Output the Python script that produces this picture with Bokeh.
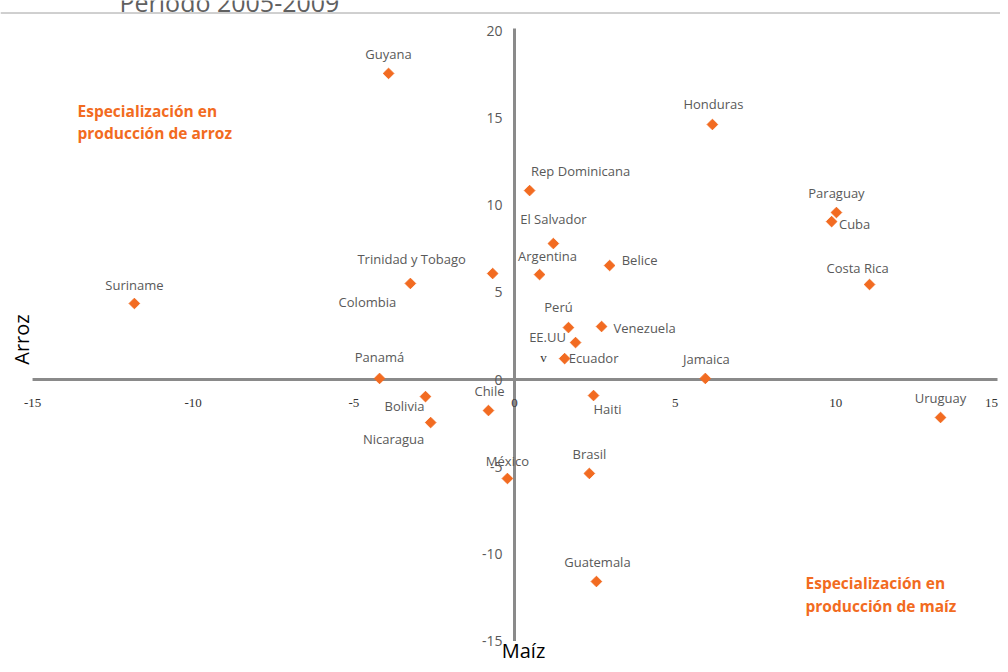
import math
from bokeh.plotting import figure
from bokeh.models import ColumnDataSource, Span, Range1d
from bokeh.core.properties import value
from bokeh.embed import file_html
from bokeh.resources import INLINE

# ---------------- data ----------------
paises = ["Guyana", "Honduras", "Rep Dominicana", "Paraguay", "Cuba", "El Salvador",
          "Trinidad y Tobago", "Argentina", "Belice", "Colombia", "Suriname", "Costa Rica",
          "Perú", "Venezuela", "EE.UU", "Ecuador", "Panamá", "Jamaica", "Bolivia", "Haiti",
          "Chile", "Nicaragua", "Uruguay", "México", "Brasil", "Guatemala"]
maiz = [-3.92, 6.16, 0.47, 10.02, 9.87, 1.21,
        -0.68, 0.78, 2.96, -3.24, -11.83, 11.05,
        1.68, 2.71, 1.90, 1.56, -4.20, 5.94, -2.77, 2.46,
        -0.81, -2.61, 13.26, -0.22, 2.33, 2.55]
arroz = [17.56, 14.63, 10.84, 9.58, 9.06, 7.80,
         6.08, 6.02, 6.54, 5.51, 4.36, 5.45,
         2.98, 3.04, 2.12, 1.20, 0.06, 0.06, -0.98, -0.92,
         -1.78, -2.47, -2.18, -5.68, -5.39, -11.59]
x_ticks = [-15, -10, -5, 0, 5, 10, 15]
y_ticks = [-15, -10, -5, 0, 5, 10, 15, 20]
x_tick_labels = [str(t) for t in x_ticks]
y_tick_labels = [str(t) for t in y_ticks]

# label placement (screen px offsets, style only)
lab_dx = [0, 1, 51, 0, 23, 0,
          -81, 8, 30, -43, 0, -12,
          -10, 43, -28, 29, 0, 1, -21, 14,
          1, -37, 0, 0, 0, 1]
lab_dy = [-19, -20, -20, -20, 2, -25,
          -15, -19, -6, 19, -19, -17,
          -21, 1, -6, -1, -21, -19, 9, 13,
          -20, 16, -19, -18, -19, -20]
xtick_dx = [0, 0, 0, 0, 0, 0, -5]

# ---------------- layout helpers ----------------
W, H = 1000, 664
PX_X0, PX_UNIT_X = 514.0, 32.13   # canvas px of x=0, px per unit
PX_Y0, PX_UNIT_Y = 379.0, 17.43
def gx(px):
    return (px - PX_X0) / PX_UNIT_X
def gy(py):
    return (PX_Y0 - py) / PX_UNIT_Y

ORANGE = "#F26B21"
GRAY_TXT = "#595959"
AXIS_GRAY = "#8a8a8a"
FONT = "Open Sans"

p = figure(width=W, height=H, output_backend="svg", toolbar_location=None,
           x_axis_type=None, y_axis_type=None,
           x_range=Range1d(gx(0), gx(W)), y_range=Range1d(gy(H), gy(0)),
           min_border=0, min_border_left=0, min_border_right=0,
           min_border_top=0, min_border_bottom=0)
p.grid.visible = False
p.outline_line_color = None
p.background_fill_color = "white"
p.border_fill_color = "white"

# top rule and cut title
p.add_layout(Span(location=gy(12.5), dimension="width", line_color="#a0a0a0", line_width=1))
p.text(x=[gx(119)], y=[gy(1.5)], text=["Período 2005-2009"], text_font=value(FONT),
       text_font_size="25px", text_color="#606060", text_align="left",
       text_baseline="alphabetic")

# axes through origin
p.segment(x0=[x_ticks[0]], y0=[0], x1=[gx(997)], y1=[0], line_color=AXIS_GRAY, line_width=3)
p.segment(x0=[0], y0=[gy(28)], x1=[0], y1=[y_ticks[0]], line_color=AXIS_GRAY, line_width=3)

# tick labels
p.text(x=x_ticks, y=[0] * len(x_ticks), text=x_tick_labels, y_offset=23, x_offset=xtick_dx,
       text_font=value("Liberation Serif"), text_font_size="13px", text_color="#333333",
       text_align="center", text_baseline="middle")
p.text(x=[0] * len(y_ticks), y=y_ticks, text=y_tick_labels, x_offset=-12,
       text_font=value(FONT), text_font_size="14px", text_color=GRAY_TXT,
       text_align="right", text_baseline="middle")

# axis titles
p.text(x=[gx(21)], y=[gy(339)], text=["Arroz"], angle=math.pi / 2,
       text_font=value(FONT), text_font_size="20px", text_color="black",
       text_align="center", text_baseline="middle")
p.text(x=[gx(523)], y=[gy(650)], text=["Maíz"],
       text_font=value(FONT), text_font_size="20px", text_color="black",
       text_align="center", text_baseline="middle")

# points
src = ColumnDataSource(dict(x=maiz, y=arroz, name=paises, dx=lab_dx, dy=lab_dy))
p.scatter("x", "y", source=src, marker="square", angle=math.pi / 4, size=7.5,
          fill_color=ORANGE, line_color=ORANGE)
p.text("x", "y", text="name", source=src, x_offset="dx", y_offset="dy",
       text_font=value(FONT), text_font_size="13px", text_color=GRAY_TXT,
       text_align="center", text_baseline="middle")

# stray "v" near Ecuador
p.text(x=[gx(543)], y=[gy(357)], text=["v"], text_font=value("Liberation Serif"),
       text_font_size="13px", text_color="#333333", text_align="center",
       text_baseline="middle")

# quadrant annotations
p.text(x=[gx(77)] * 2, y=[gy(110), gy(132)],
       text=["Especialización en", "producción de arroz"],
       text_font=value(FONT), text_font_size="15.5px", text_font_style="bold",
       text_color=ORANGE, text_align="left", text_baseline="middle")
p.text(x=[gx(805)] * 2, y=[gy(582), gy(605)],
       text=["Especialización en", "producción de maíz"],
       text_font=value(FONT), text_font_size="15.5px", text_font_style="bold",
       text_color=ORANGE, text_align="left", text_baseline="middle")

open("out.html", "w").write(file_html(p, INLINE))
